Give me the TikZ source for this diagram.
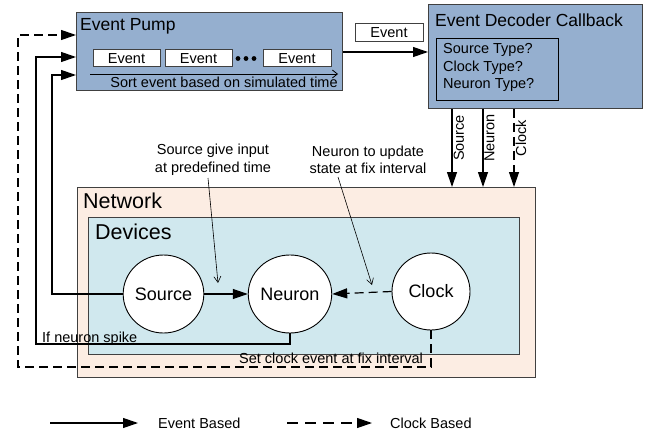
\documentclass[tikz,border=0pt]{standalone}
\usepackage{fontspec}
\setmainfont{Liberation Sans}
\usetikzlibrary{arrows.meta,calc,shapes.geometric}

\definecolor{pumpblue}{RGB}{149,175,207}
\definecolor{netpeach}{RGB}{252,237,227}
\definecolor{devblue}{RGB}{208,232,238}
\definecolor{edgegrey}{RGB}{64,64,64}

\tikzset{
  x=1pt, y=-1pt,
  txt/.style={font=\fontsize{14.5}{17.5}\selectfont, inner sep=0pt},
  ttl/.style={font=\fontsize{17.5}{20}\selectfont, inner sep=0pt, anchor=base west},
  bigttl/.style={font=\fontsize{21.5}{24}\selectfont, inner sep=0pt, anchor=base west},
  panel/.style={draw=edgegrey, line width=1pt, anchor=north west, inner sep=0pt},
  evbox/.style={draw=edgegrey, line width=1pt, fill=white, inner sep=0pt,
    minimum height=17pt, font=\fontsize{14.5}{17}\selectfont},
  device/.style={ellipse, draw=black, line width=0.9pt, fill=white, inner sep=0pt,
    minimum width=78pt, minimum height=78pt, font=\fontsize{18}{20}\selectfont},
  evt/.style={line width=1.2pt, -{Triangle[length=15pt,width=10pt]}},
  clk/.style={evt, dash pattern=on 9pt off 5pt},
  note/.style={line width=0.6pt, -{Straight Barb[length=6pt,width=7pt]}},
}

\begin{document}
\begin{tikzpicture}
\useasboundingbox (0,0) rectangle (645,433);

% --- panels ---
\node[panel, fill=pumpblue, minimum width=266pt, minimum height=78pt] (pump) at (76,12) {};
\node[panel, fill=pumpblue, minimum width=214pt, minimum height=104pt] (decoder) at (428,4) {};
\node[panel, fill=netpeach, minimum width=458pt, minimum height=190pt] (network) at (77,187) {};
\node[panel, fill=devblue, minimum width=431pt, minimum height=137pt] (devices) at (88,217) {};

\node[ttl] (pumpttl) at (80,30.5) {Event Pump};
\node[ttl] (decttl) at (435,27) {Event Decoder Callback};
\node[bigttl] (netttl) at (83,208) {Network};
\node[bigttl] (devttl) at (95,239) {Devices};

% --- event queue inside the pump ---
\node[evbox, minimum width=67pt] (e1) at (126.5,58.5) {Event};
\node[evbox, minimum width=67pt] (e2) at (198.5,58.5) {Event};
\node[evbox, minimum width=68pt] (e3) at (297,58.5) {Event};
\foreach \dx in {238,246,254} \fill (\dx,58.5) circle (2.4pt);
\coordinate (sortA) at (90,74);
\coordinate (sortB) at (338,74);
\draw[line width=0.8pt, -{Straight Barb[length=5pt,width=8pt]}] (sortA) -- (sortB);
\node[txt] (sorttxt) at (224,82) {Sort event based on simulated time};

% --- decoder questions ---
\node[draw=black, line width=1pt, anchor=north west, minimum width=122pt, minimum height=62pt,
      inner sep=0pt] (types) at (436,38) {};
\node[txt, anchor=north west, align=left] (typetxt) at (443,43.5)
  {Source Type?\\Clock Type?\\Neuron Type?};

% --- pump to decoder ---
\node[evbox, minimum width=68pt, minimum height=18pt] (evlbl) at (389,33) {Event};
\coordinate (pumpout) at ($(pump.north east)+(0,40)$);
\draw[evt] (pumpout) -- (pumpout -| decoder.west);

% --- decoder dispatch into the network ---
\coordinate (dS) at ($(decoder.south west)+(24,0)$);
\coordinate (dN) at ($(decoder.south west)+(55,0)$);
\coordinate (dC) at ($(decoder.south west)+(86,0)$);
\draw[evt] (dS) -- (dS |- network.north);
\draw[evt] (dN) -- (dN |- network.north);
\draw[clk] (dC) -- (dC |- network.north);
\node[txt, rotate=90] (lS) at (459,138) {Source};
\node[txt, rotate=90] (lN) at (489.5,138) {Neuron};
\node[txt, rotate=90] (lC) at (521,138) {Clock};

% --- devices ---
\node[device, minimum width=77pt] (source) at (163.5,294) {Source};
\node[device] (neuron) at (290,294) {Neuron};
\node[device, minimum height=77pt] (clock) at (431,291.5) {Clock};

\draw[evt] (source.east) -- (neuron.west);
\draw[clk] (clock.west) -- (neuron.east);

% --- annotations ---
\node[txt, align=center] (srcnote) at (213,160) {Source give input\\at predefined time};
\node[txt, align=center] (neunote) at (368,160) {Neuron to update\\state at fix interval};
\coordinate (srcpt) at (218,283);
\coordinate (neupt) at (372,285);
\draw[note] (208,178) -- (srcpt);
\draw[note] (338,177) -- (neupt);

% --- feedback to the pump ---
\draw[evt] (source.west) -| (52,75) -- ($(pump.north west)+(0,63)$);
\draw[evt] (neuron.south) |- (36,344) |- ($(pump.north west)+(0,45)$);
\draw[clk] (clock.south) |- (18,367) |- ($(pump.north west)+(0,23)$);
\node[txt, anchor=base west] (spike) at (42,342) {If neuron spike};
\node[txt, anchor=base west] (setclk) at (239,363) {Set clock event at fix interval};

% --- legend ---
\coordinate (lgA) at (50,423);
\coordinate (lgB) at (138,423);
\coordinate (lgC) at (287,423);
\coordinate (lgD) at (372,423);
\draw[evt] (lgA) -- (lgB);
\draw[evt, dash pattern=on 11pt off 7pt] (lgC) -- (lgD);
\node[txt, anchor=west] (lgE) at (158,423) {Event Based};
\node[txt, anchor=west] (lgF) at (390,423) {Clock Based};
\end{tikzpicture}
\end{document}
